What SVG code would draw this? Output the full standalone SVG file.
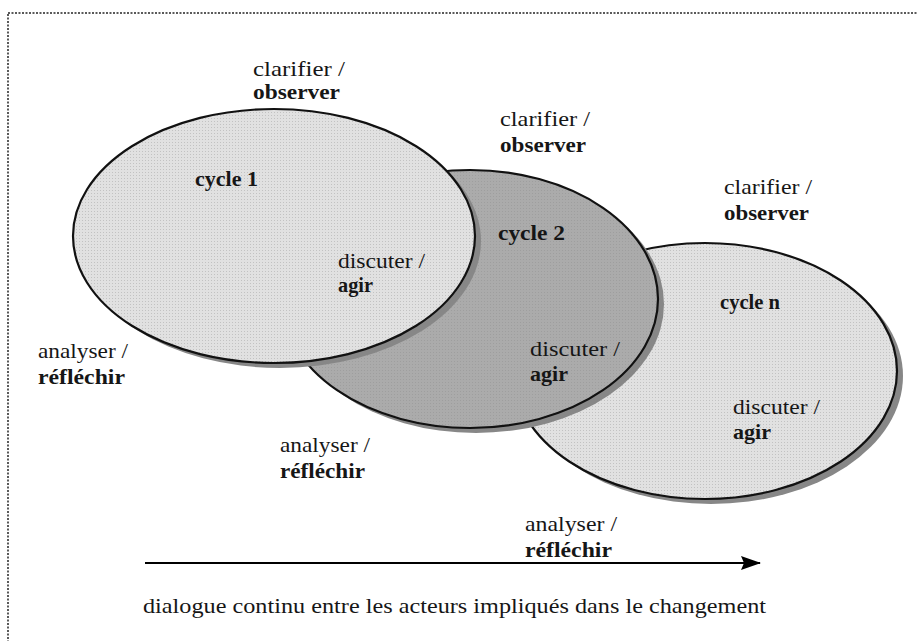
<svg xmlns="http://www.w3.org/2000/svg" width="917" height="641" viewBox="0 0 917 641">
  <defs>
    <pattern id="dotsLight" width="3" height="3" patternUnits="userSpaceOnUse">
      <rect width="3" height="3" fill="#e1e1e1"/>
      <rect x="1" y="1" width="1" height="1" fill="#c2c2c2"/>
    </pattern>
    <pattern id="dotsDark" width="3" height="3" patternUnits="userSpaceOnUse">
      <rect width="3" height="3" fill="#ababab"/>
      <rect x="1" y="1" width="1" height="1" fill="#9e9e9e"/>
    </pattern>
    <marker id="arrowHead" viewBox="0 0 20 14" refX="19" refY="7" markerWidth="20" markerHeight="14" markerUnits="userSpaceOnUse" orient="auto">
      <path d="M0,0 L20,7 L0,14 L3,7 Z" fill="#000"/>
    </marker>
    <style>
      .shadow { fill: #878787; }
      .cyc { stroke: #111; stroke-width: 2.2; }
      .frame { fill: none; stroke: #5a5a5a; stroke-width: 2; stroke-dasharray: 2 1.5; }
    </style>
  </defs>

  <rect class="frame" x="8" y="13" width="1000" height="1000"/>

  <g id="cycle-n" font-family="Liberation Serif" font-size="21" fill="#161616">
    <ellipse class="shadow" cx="711" cy="376" rx="192" ry="128"/>
    <ellipse class="cyc" cx="705" cy="371" rx="192" ry="128" fill="url(#dotsLight)"/>
    <text font-weight="bold" x="720" y="309" textLength="60" lengthAdjust="spacingAndGlyphs">cycle n</text>
    <text x="733" y="414" textLength="87" lengthAdjust="spacingAndGlyphs">discuter /</text>
    <text font-weight="bold" x="733" y="439" textLength="38" lengthAdjust="spacingAndGlyphs">agir</text>
  </g>

  <g id="cycle-2" font-family="Liberation Serif" font-size="21" fill="#161616">
    <ellipse class="shadow" cx="476" cy="304" rx="188" ry="129"/>
    <ellipse class="cyc" cx="470" cy="299" rx="188" ry="129" fill="url(#dotsDark)"/>
    <text font-weight="bold" x="498" y="240" textLength="67" lengthAdjust="spacingAndGlyphs">cycle 2</text>
    <text x="530" y="356" textLength="90" lengthAdjust="spacingAndGlyphs">discuter /</text>
    <text font-weight="bold" x="530" y="381" textLength="38" lengthAdjust="spacingAndGlyphs">agir</text>
  </g>

  <g id="cycle-1" font-family="Liberation Serif" font-size="21" fill="#161616">
    <ellipse class="shadow" cx="280" cy="241" rx="201" ry="127"/>
    <ellipse class="cyc" cx="274" cy="236" rx="201" ry="127" fill="url(#dotsLight)"/>
    <text font-weight="bold" x="195" y="186" textLength="63" lengthAdjust="spacingAndGlyphs">cycle 1</text>
    <text x="338" y="268" textLength="87" lengthAdjust="spacingAndGlyphs">discuter /</text>
    <text font-weight="bold" x="338" y="292" textLength="35" lengthAdjust="spacingAndGlyphs">agir</text>
  </g>

  <g id="labels-1" font-family="Liberation Serif" font-size="21" fill="#161616">
    <text x="253" y="76" textLength="92" lengthAdjust="spacingAndGlyphs">clarifier /</text>
    <text font-weight="bold" x="253" y="99" textLength="87" lengthAdjust="spacingAndGlyphs">observer</text>
    <text x="38" y="358" textLength="90" lengthAdjust="spacingAndGlyphs">analyser /</text>
    <text font-weight="bold" x="38" y="384" textLength="87" lengthAdjust="spacingAndGlyphs">réfléchir</text>
  </g>

  <g id="labels-2" font-family="Liberation Serif" font-size="21" fill="#161616">
    <text x="500" y="126" textLength="90" lengthAdjust="spacingAndGlyphs">clarifier /</text>
    <text font-weight="bold" x="500" y="152" textLength="86" lengthAdjust="spacingAndGlyphs">observer</text>
    <text x="280" y="452" textLength="90" lengthAdjust="spacingAndGlyphs">analyser /</text>
    <text font-weight="bold" x="280" y="478" textLength="85" lengthAdjust="spacingAndGlyphs">réfléchir</text>
  </g>

  <g id="labels-n" font-family="Liberation Serif" font-size="21" fill="#161616">
    <text x="724" y="194" textLength="88" lengthAdjust="spacingAndGlyphs">clarifier /</text>
    <text font-weight="bold" x="724" y="220" textLength="85" lengthAdjust="spacingAndGlyphs">observer</text>
    <text x="525" y="531" textLength="92" lengthAdjust="spacingAndGlyphs">analyser /</text>
    <text font-weight="bold" x="525" y="557" textLength="87" lengthAdjust="spacingAndGlyphs">réfléchir</text>
  </g>

  <g id="connectors">
    <line x1="145" y1="563" x2="760" y2="563" stroke="#000" stroke-width="2" marker-end="url(#arrowHead)"/>
  </g>

  <g id="caption" font-family="Liberation Serif" font-size="21" fill="#161616">
    <text x="143" y="613" textLength="623" lengthAdjust="spacingAndGlyphs">dialogue continu entre les acteurs impliqués dans le changement</text>
  </g>
</svg>
